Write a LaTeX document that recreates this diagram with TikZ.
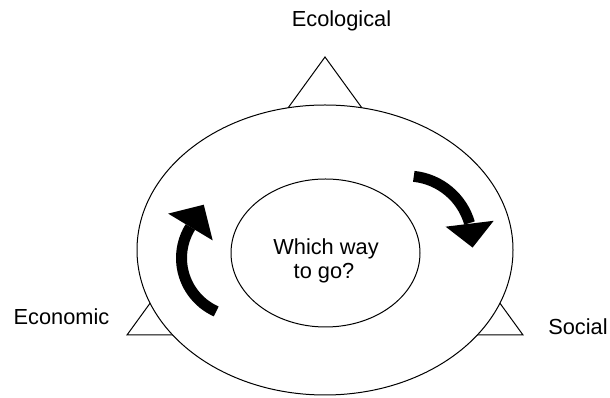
\documentclass[tikz,border=0pt]{standalone}
\usepackage{fontspec}
\setmainfont{Liberation Sans}
\usetikzlibrary{shapes.geometric,calc}

\begin{document}
\begin{tikzpicture}[x=1pt,y=1pt,
  outline/.style={draw=black, line width=1pt},
  label/.style={font=\fontsize{21.8}{25}\selectfont, inner sep=0pt, anchor=base},
  shaft/.style={line width=11pt, line cap=butt},
  head/.style={fill=black},
]
\useasboundingbox (0,0) rectangle (610,398);

% three pillars, partly hidden behind the ring
\coordinate (ecoTop) at (325,341);
\coordinate (econTop) at (164,114);
\coordinate (socTop) at (486,114);
\foreach \p in {ecoTop,econTop,socTop}
  \draw[outline, line join=miter] (\p) -- ++(-37,-51) -- ++(74,0) -- cycle;

% outer ring and inner question
\node[ellipse, outline, fill=white, inner sep=0pt,
      minimum width=376pt, minimum height=290pt] (ring) at (325,148) {};
\node[ellipse, outline, fill=white, inner sep=0pt,
      minimum width=189pt, minimum height=148pt] (hub) at (325.5,145) {};

% labels
\node[label] (eco)  at (341.5,371) {Ecological};
\node[label] (econ) at (61.5,73)   {Economic};
\node[label] (soc)  at (578,63)    {Social};
\node[label] (q1)   at (326,143)   {Which way};
\node[label] (q2)   at (324,119)   {to go?};

% left curved arrow (upwards)
\coordinate (lc) at (240,140);
\draw[shaft] ($(lc)+(246:58.5)$) arc[start angle=246, end angle=148, radius=58.5];
\coordinate (lm) at ($(lc)+(148:58.5)$);
\fill[head] ($(lm)+(149:26)$) -- ($(lm)+(59:26)$) -- ($(lm)+(329:26)$) -- cycle;

% right curved arrow (downwards)
\coordinate (rc) at (407,157);
\draw[shaft] ($(rc)+(84:65)$) arc[start angle=84, end angle=16, radius=65];
\coordinate (rm) at ($(rc)+(15.4:65)$);
\fill[head] ($(rm)+(7:24.2)$) -- ($(rm)+(-83:24)$) -- ($(rm)+(187:24.2)$) -- cycle;
\end{tikzpicture}
\end{document}
